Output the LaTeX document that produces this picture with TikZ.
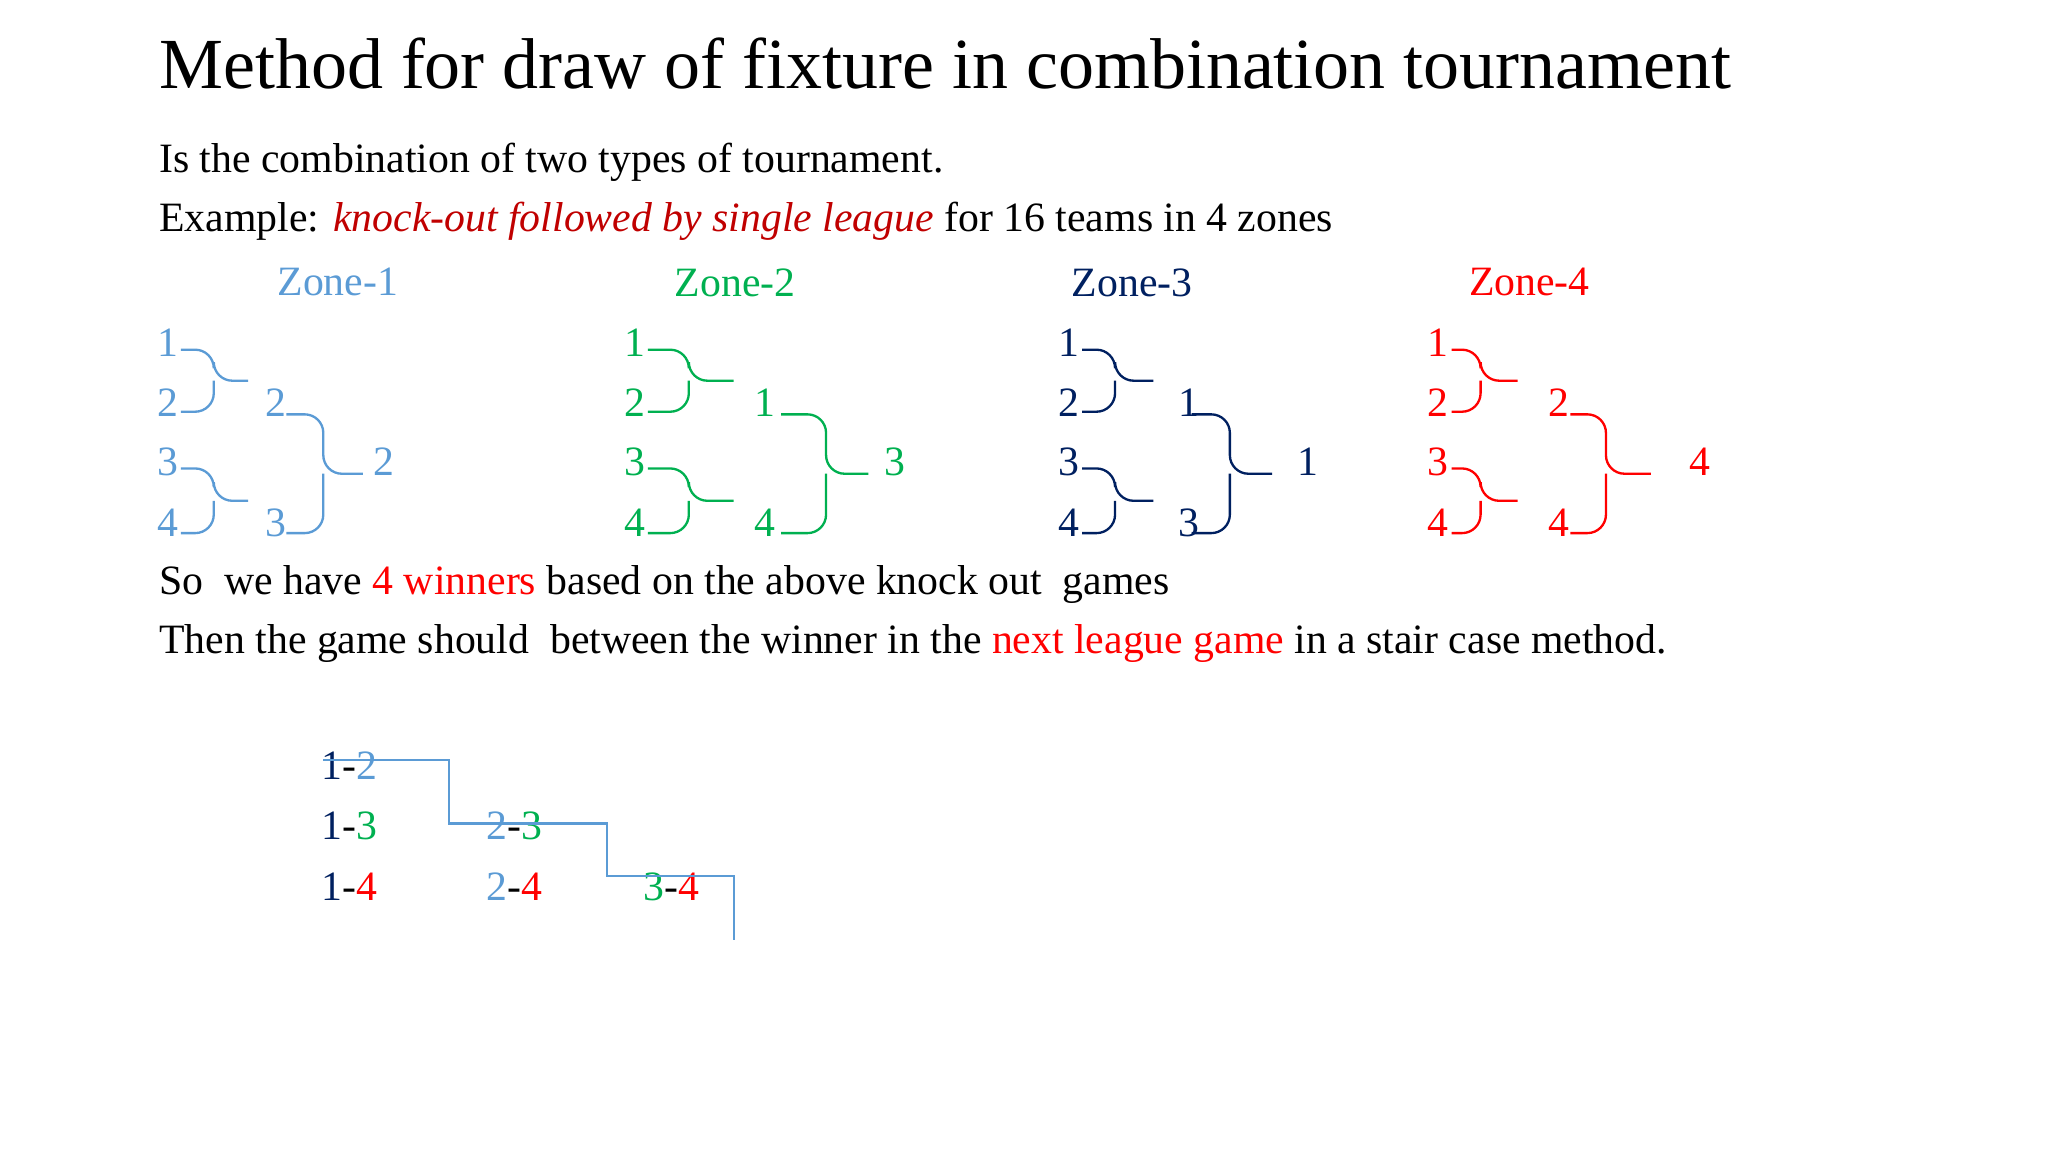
\documentclass[tikz,border=0pt]{standalone}
\usepackage{fontspec}
\setmainfont{Liberation Serif}
\definecolor{zA}{HTML}{5B9BD5}
\definecolor{zB}{HTML}{00B050}
\definecolor{zC}{HTML}{002060}
\definecolor{zD}{HTML}{FF0000}
\definecolor{dred}{HTML}{C00000}
\newcommand{\brk}[6]{% x1 y1 y2 xb xp color
  \draw[#6,line width=0.5pt,rounded corners=4pt] (#1,#2) -- (#4,#2) -- (#4,{(#2+#3)/2}) -- (#5,{(#2+#3)/2});
  \draw[#6,line width=0.5pt,rounded corners=4pt] (#4,{(#2+#3)/2}) -- (#4,#3) -- (#1,#3);}
\begin{document}
\begin{tikzpicture}[x=0.01cm,y=-0.01cm,
  body/.style={anchor=west,inner sep=0,font=\fontsize{9}{11}\selectfont},
  num/.style={inner sep=0,font=\fontsize{9}{11}\selectfont}]
\useasboundingbox (0,0) rectangle (1552,873);
\node[anchor=west,inner sep=0,font=\fontsize{15.5}{18}\selectfont] (title) at (120,48) {Method for draw of fixture in combination tournament};
\node[body] (l1) at (120,123) {Is the combination of two types of tournament.};
\node[body] (l2) at (120,168) {Example: \textcolor{dred}{\itshape knock-out followed by single league} for 16 teams in 4 zones};
\node[body] (l3) at (120,443) {So\ \ we have \textcolor{zD}{4 winners} based on the above knock out\ \ games};
\node[body] (l4) at (120,488) {Then the game should\ \ between the winner in the \textcolor{zD}{next league game} in a stair case method.};
% zones: label x, n1 x, brace1 x, point1 x, n2 x, brace2 start, brace2 x, point2 x, winner x, winner, top2, bot2, color
\foreach \lx/\na/\ba/\pa/\nb/\sb/\bb/\pb/\wx/\w/\ta/\tb/\c/\z in
 {256/127/162/188/209/217/245/275/291/2/2/3/zA/1,
  557/481/522/556/580/592/626/658/678/3/1/4/zB/2,
  858/810/845/874/901/903/932/964/991/1/1/3/zC/3,
  1159/1090/1122/1150/1181/1190/1217/1251/1288/4/2/4/zD/4}{
  \node[num,text=\c] (zone\z) at (\lx,214) {Zone-\z};
  \node[num,text=\c] (a\z) at (\na,260) {1};
  \node[num,text=\c] (b\z) at (\na,305) {2};
  \node[num,text=\c] (c\z) at (\na,350) {3};
  \node[num,text=\c] (d\z) at (\na,396) {4};
  \node[num,text=\c] (e\z) at (\nb,305) {\ta};
  \node[num,text=\c] (f\z) at (\nb,396) {\tb};
  \node[num,text=\c] (w\z) at (\wx,350) {\w};
  \brk{\na+10}{265}{312}{\ba}{\pa}{\c}
  \brk{\na+10}{355}{404}{\ba}{\pa}{\c}
  \brk{\sb}{314}{404}{\bb}{\pb}{\c}
}
% stair case
\node[num] (p12) at (265,580) {\textcolor{zC}{1}-\textcolor{zA}{2}};
\node[num] (p13) at (265,626) {\textcolor{zC}{1}-\textcolor{zB}{3}};
\node[num] (p14) at (265,672) {\textcolor{zC}{1}-\textcolor{zD}{4}};
\node[num] (p23) at (390,626) {\textcolor{zA}{2}-\textcolor{zB}{3}};
\node[num] (p24) at (390,672) {\textcolor{zA}{2}-\textcolor{zD}{4}};
\node[num] (p34) at (509,672) {\textcolor{zB}{3}-\textcolor{zD}{4}};
\coordinate (s0) at (245,576);
\coordinate (s1) at (556,712);
\draw[zA,line width=0.5pt] (s0) -- (340,576) -- (340,624) -- (460,624) -- (460,664) -- (556,664) -- (s1);
\end{tikzpicture}
\end{document}
